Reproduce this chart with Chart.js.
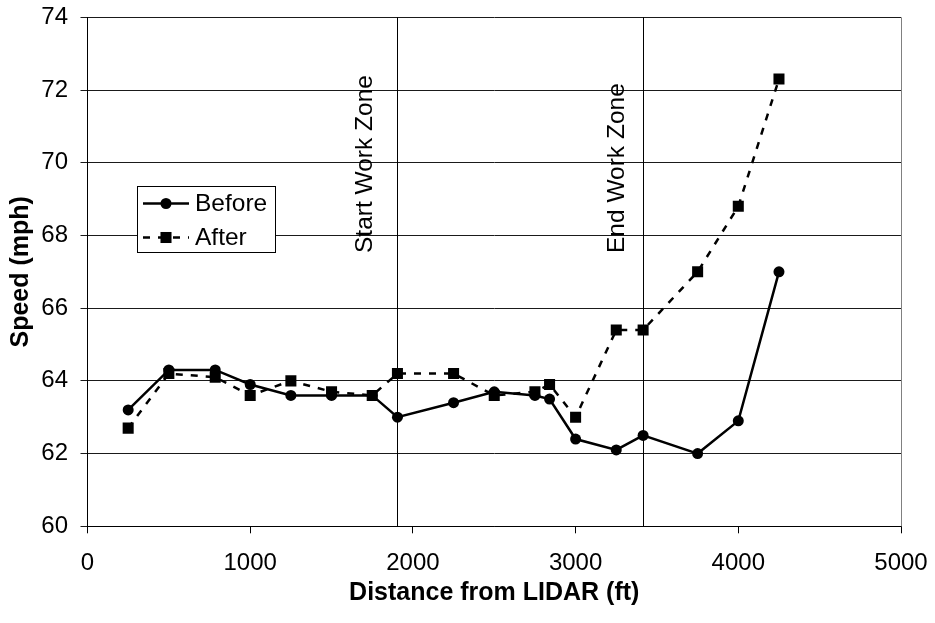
<!DOCTYPE html>
<html>
<head>
<meta charset="utf-8">
<script src="https://cdn.jsdelivr.net/npm/chart.js@4.4.1/dist/chart.umd.min.js"></script>
<style>
  html, body { margin: 0; padding: 0; background: #fff; }
  #wrap { width: 935px; height: 623px; }
</style>
</head>
<body>
<div id="wrap"><canvas id="chartSpeed" width="935" height="623"></canvas></div>
<script>
// ── Data ─────────────────────────────────────────────────────────────────
const DISTANCE = [250, 500, 785, 1000, 1250, 1500, 1750, 1905, 2250, 2500, 2750, 2840, 3000, 3250, 3415, 3750, 4000, 4250];
const BEFORE   = [63.2, 64.3, 64.3, 63.9, 63.6, 63.6, 63.6, 63.0, 63.4, 63.7, 63.6, 63.5, 62.4, 62.1, 62.5, 62.0, 62.9, 67.0];
const AFTER    = [62.7, 64.2, 64.1, 63.6, 64.0, 63.7, 63.6, 64.2, 64.2, 63.6, 63.7, 63.9, 63.0, 65.4, 65.4, 67.0, 68.8, 72.3];

const X_TICKS = [0, 1000, 2000, 3000, 4000, 5000];
const Y_TICKS = [60, 62, 64, 66, 68, 70, 72, 74];

const ZONE_X      = [1905, 3415];
const ZONE_LABELS = ["Start Work Zone", "End Work Zone"];

// ── Helpers ──────────────────────────────────────────────────────────────
const FONT = "'Liberation Sans', Arial, sans-serif";
const pts = (ys) => DISTANCE.map((x, i) => ({ x, y: ys[i] }));
const fixTicks = (list) => (scale) => { scale.ticks = list.map((v) => ({ value: v })); };

// gap between each zone line and its rotated label
const ZONE_GAP = [26, 20];

const zonePlugin = {
  id: "zones",
  beforeDatasetsDraw(chart) {
    const { ctx, chartArea: a, scales: { x } } = chart;
    ctx.save();
    // right frame
    ctx.strokeStyle = "#808080";
    ctx.lineWidth = 1;
    ctx.beginPath();
    ctx.moveTo(Math.round(a.right) + 0.5, a.top);
    ctx.lineTo(Math.round(a.right) + 0.5, a.bottom);
    ctx.stroke();

    ZONE_X.forEach((v, i) => {
      const px = Math.round(x.getPixelForValue(v)) + 0.5;
      ctx.strokeStyle = "#000";
      ctx.beginPath();
      ctx.moveTo(px, a.top);
      ctx.lineTo(px, a.bottom);
      ctx.stroke();

      ctx.save();
      ctx.translate(px - ZONE_GAP[i], 253);
      ctx.rotate(-Math.PI / 2);
      ctx.fillStyle = "#000";
      ctx.font = `24.5px ${FONT}`;
      ctx.textAlign = "left";
      ctx.textBaseline = "alphabetic";
      ctx.fillText(ZONE_LABELS[i], 0, 0);
      ctx.restore();
    });
    ctx.restore();
  },
};

const legendPlugin = {
  id: "legendBox",
  afterDraw(chart) {
    const { ctx } = chart;
    ctx.save();
    ctx.fillStyle = "#fff";
    ctx.fillRect(137.5, 186.5, 138, 66);
    ctx.strokeStyle = "#000";
    ctx.lineWidth = 1;
    ctx.strokeRect(137.5, 186.5, 138, 66);

    chart.data.datasets.forEach((ds, i) => {
      const y = 203.5 + i * 34;
      ctx.strokeStyle = ds.borderColor;
      ctx.lineWidth = ds.borderWidth;
      ctx.setLineDash(ds.borderDash || []);
      ctx.beginPath();
      ctx.moveTo(143, y);
      ctx.lineTo(189, y);
      ctx.stroke();
      ctx.setLineDash([]);

      ctx.fillStyle = "#000";
      if (ds.pointStyle === "rect") {
        const s = ds.pointRadius * Math.SQRT1_2;
        ctx.fillRect(166 - s, y - s, 2 * s, 2 * s);
      } else {
        ctx.beginPath();
        ctx.arc(166, y, ds.pointRadius, 0, Math.PI * 2);
        ctx.fill();
      }

      ctx.font = `24.5px ${FONT}`;
      ctx.textAlign = "left";
      ctx.textBaseline = "middle";
      ctx.fillText(ds.label, 195, y + 1);
    });
    ctx.restore();
  },
};

// ── Chart ────────────────────────────────────────────────────────────────
new Chart(document.getElementById("chartSpeed"), {
  type: "scatter",
  data: {
    datasets: [
      {
        label: "Before",
        data: pts(BEFORE),
        showLine: true,
        borderColor: "#000",
        borderWidth: 2.5,
        pointStyle: "circle",
        pointRadius: 5.5,
        pointBackgroundColor: "#000",
        pointBorderWidth: 0,
      },
      {
        label: "After",
        data: pts(AFTER),
        showLine: true,
        borderColor: "#000",
        borderWidth: 2.5,
        borderDash: [7, 8],
        pointStyle: "rect",
        pointRadius: 7.8,
        pointBackgroundColor: "#000",
        pointBorderWidth: 0,
      },
    ],
  },
  options: {
    responsive: false,
    animation: false,
    devicePixelRatio: 1,
    layout: { padding: { top: 17.3, right: 34, bottom: 0, left: 0 } },
    plugins: {
      legend: { display: false },
      tooltip: { enabled: false },
    },
    scales: {
      x: {
        type: "linear",
        min: X_TICKS[0],
        max: X_TICKS[X_TICKS.length - 1],
        afterBuildTicks: fixTicks(X_TICKS),
        afterFit: (s) => {
          s.height = 623 - 526.3;
          s.paddingLeft = 0;
          s.paddingRight = 0;
        },
        grid: { drawOnChartArea: false, drawTicks: true, tickLength: 7, color: "#000" },
        border: { color: "#000", width: 1 },
        ticks: {
          color: "#000",
          padding: 16,
          maxRotation: 0,
          font: { family: FONT, size: 24 },
          callback: (v) => String(v),
        },
        title: {
          display: true,
          text: "Distance from LIDAR (ft)",
          color: "#000",
          font: { family: FONT, size: 25, weight: "bold" },
          padding: { top: 0, bottom: 15 },
        },
      },
      y: {
        type: "linear",
        min: Y_TICKS[0],
        max: Y_TICKS[Y_TICKS.length - 1],
        afterBuildTicks: fixTicks(Y_TICKS),
        afterFit: (s) => {
          s.width = 87.5;
          s.paddingTop = 0;
          s.paddingBottom = 0;
        },
        grid: { drawOnChartArea: true, drawTicks: true, tickLength: 7, color: "#1a1a1a" },
        border: { color: "#000", width: 1 },
        ticks: {
          color: "#000",
          padding: 12.5,
          font: { family: FONT, size: 24 },
          callback: (v) => String(v),
        },
        title: {
          display: true,
          text: "Speed (mph)",
          color: "#000",
          font: { family: FONT, size: 25, weight: "bold" },
          padding: { top: 6.5, bottom: 0 },
        },
      },
    },
  },
  plugins: [zonePlugin, legendPlugin],
});
</script>
</body>
</html>
